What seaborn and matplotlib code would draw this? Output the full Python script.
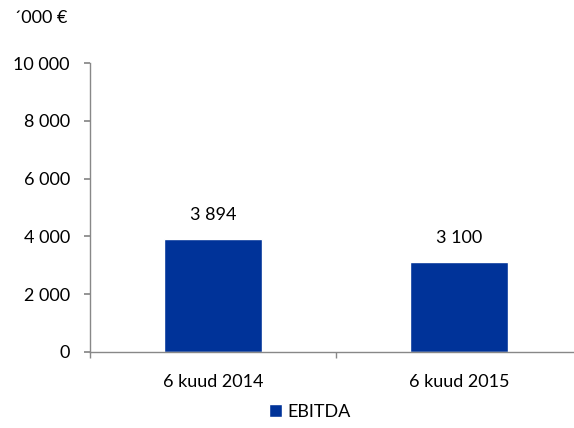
import matplotlib
matplotlib.use("Agg")
import matplotlib.pyplot as plt
import seaborn as sns
import pandas as pd
from matplotlib.ticker import FixedLocator

categories = ["6 kuud 2014", "6 kuud 2015"]
values = [3894, 3100]
series = "EBITDA"
y_ticks = [0, 2000, 4000, 6000, 8000, 10000]
unit_label = "´000 €"

sns.set_theme(style="white")
plt.rcParams['font.family'] = ['Lato', 'DejaVu Sans']
plt.rcParams['text.color'] = 'black'
plt.rcParams['xtick.color'] = 'black'
plt.rcParams['ytick.color'] = 'black'
FS = 13

df = pd.DataFrame({"cat": categories, "val": values, "series": [series] * len(categories)})

fig = plt.figure(figsize=(5.74, 4.28), dpi=100)
ax = fig.add_axes([90/574, 1-352/428, 492/574, (352-63)/428])

sns.barplot(data=df, x="cat", y="val", hue="series", palette=["#003399"],
            width=0.4, dodge=False, ax=ax, saturation=1, legend=True)

ax.set_xlim(-0.5, 1.5)
ax.set_ylim(0, 10000)
ax.set_yticks(y_ticks)
ax.set_yticklabels([f"{t:,}".replace(",", " ") for t in y_ticks], fontsize=FS)
ax.set_xlabel("")
ax.set_ylabel("")
ax.tick_params(axis="x", which="major", length=0, pad=16, labelsize=FS, labelcolor="black")
ax.xaxis.set_minor_locator(FixedLocator([-0.5, 0.5, 1.5]))
ax.tick_params(axis="x", which="minor", length=4.5, direction="out", color="#888888", bottom=True)
ax.tick_params(axis="y", length=4.5, direction="out", color="#888888", left=True, pad=10, labelcolor="black")

for s in ["top", "right"]:
    ax.spines[s].set_visible(False)
for s in ["left", "bottom"]:
    ax.spines[s].set_color("#888888")
    ax.spines[s].set_linewidth(1)

for i, v in enumerate(values):
    ax.annotate(f"{v:,}".replace(",", " "), (i, v), xytext=(0, 12), textcoords="offset points",
                ha="center", va="bottom", fontsize=FS, color="black")

leg = ax.legend(loc="center", bbox_to_anchor=(310/574, 1-412/428), bbox_transform=fig.transFigure,
                frameon=False, fontsize=FS, handlelength=0.7, handleheight=0.7, handletextpad=0.3)

fig.text(14/574, 1-18/428, unit_label, fontsize=FS, ha="left", va="center", color="black")

fig.savefig("out.png", dpi=100)
